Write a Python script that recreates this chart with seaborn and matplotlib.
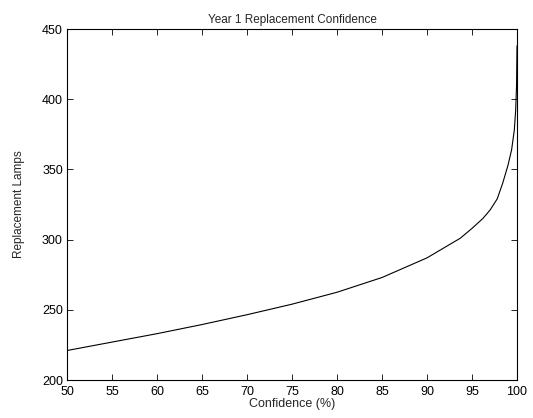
import numpy as np
import pandas as pd
import matplotlib
matplotlib.use('Agg')
import matplotlib.pyplot as plt
import seaborn as sns

# values
confidence = [50, 55, 60, 65, 70, 75, 80, 85, 90, 93.7, 95, 96.2, 97, 97.8,
              98.4, 99, 99.4, 99.7, 99.85, 99.95, 100]
replacements = [221, 227, 233, 239.5, 246.5, 254, 262.5, 273, 287, 301, 308,
                315, 321, 329, 340, 353, 364, 378, 392, 410, 438]
xticks = [50, 55, 60, 65, 70, 75, 80, 85, 90, 95, 100]
yticks = [200, 250, 300, 350, 400, 450]

df = pd.DataFrame({'Confidence': confidence, 'Replacements': replacements})

sns.set_style("ticks")
plt.rcParams['font.family'] = ['Liberation Sans', 'DejaVu Sans']
plt.rcParams['font.size'] = 9

fig = plt.figure(figsize=(5.33, 4.18), dpi=100)
ax = fig.add_axes([0.1257, 0.0909, 0.8443, 0.8397])

sns.lineplot(data=df, x='Confidence', y='Replacements', ax=ax,
             color='black', linewidth=0.8)

ax.set_xlim(50, 100)
ax.set_ylim(200, 450)
ax.set_xticks(xticks)
ax.set_yticks(yticks)
ax.tick_params(direction='in', length=4, width=0.6, top=True, right=True,
               labelsize=9, colors='black')
ax.tick_params(axis='x', pad=4)
ax.tick_params(axis='y', pad=3)
for s in ax.spines.values():
    s.set_visible(True)
    s.set_color('black')
    s.set_linewidth(0.8)

ax.set_title('Year 1 Replacement Confidence', fontsize=8.5, pad=4)
ax.set_xlabel('Confidence (%)', fontsize=9, labelpad=0)
ax.set_ylabel('Replacement Lamps', fontsize=8.5, labelpad=12)

fig.savefig('out.png', dpi=100, facecolor='white')
